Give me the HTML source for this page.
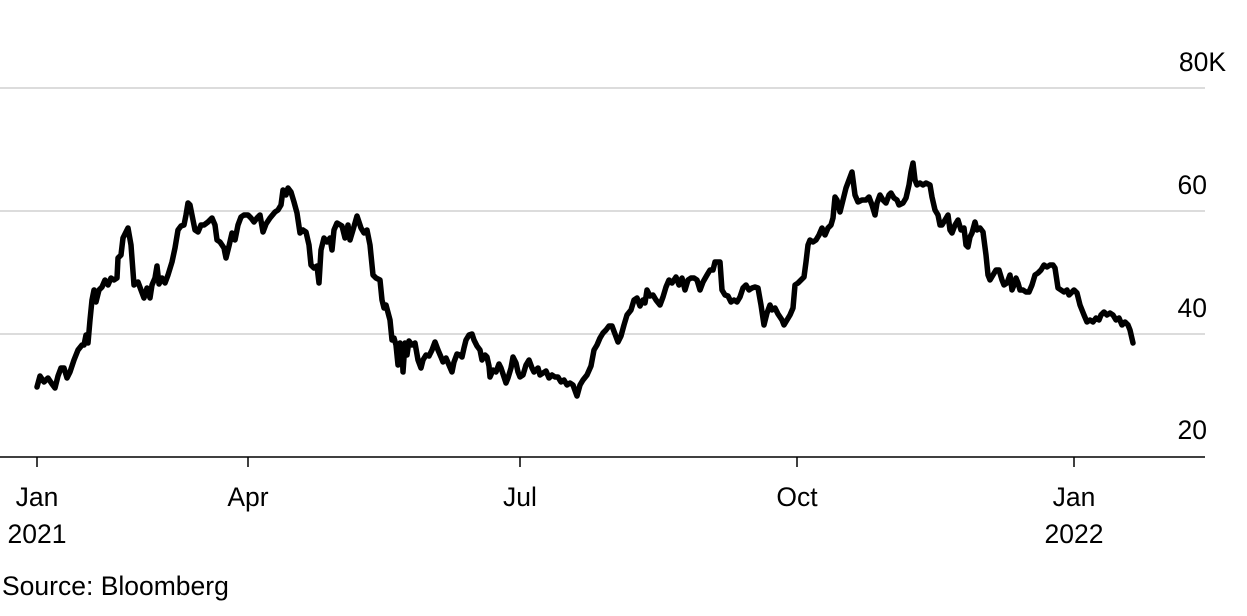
<!DOCTYPE html>
<html><head><style>
html,body{margin:0;padding:0;background:#fff;}
body{width:1247px;height:611px;overflow:hidden;font-family:"Liberation Sans",sans-serif;}
</style></head><body>
<svg width="1247" height="611" xmlns="http://www.w3.org/2000/svg" font-family="Liberation Sans, sans-serif" font-size="26.5" fill="#000">
<g stroke="#dcdcdc" stroke-width="2">
<line x1="0" y1="88" x2="1205" y2="88"/>
<line x1="0" y1="211" x2="1205" y2="211"/>
<line x1="0" y1="334" x2="1205" y2="334"/>
</g>
<line x1="0" y1="457" x2="1205" y2="457" stroke="#000" stroke-width="1.5"/>
<g stroke="#000" stroke-width="1.5">
<line x1="37" y1="457" x2="37" y2="467"/>
<line x1="248" y1="457" x2="248" y2="467"/>
<line x1="520" y1="457" x2="520" y2="467"/>
<line x1="797" y1="457" x2="797" y2="467"/>
<line x1="1074" y1="457" x2="1074" y2="467"/>
</g>
<text x="1226" y="71" text-anchor="end">80K</text>
<text x="1207" y="194" text-anchor="end">60</text>
<text x="1207" y="317" text-anchor="end">40</text>
<text x="1207" y="439" text-anchor="end">20</text>
<text x="37" y="506" text-anchor="middle">Jan</text>
<text x="37" y="543" text-anchor="middle">2021</text>
<text x="248" y="506" text-anchor="middle">Apr</text>
<text x="520" y="506" text-anchor="middle">Jul</text>
<text x="797" y="506" text-anchor="middle">Oct</text>
<text x="1074" y="506" text-anchor="middle">Jan</text>
<text x="1074" y="543" text-anchor="middle">2022</text>
<text x="2" y="595">Source: Bloomberg</text>
<polyline fill="none" stroke="#000" stroke-width="5.5" stroke-linejoin="round" stroke-linecap="round" points="37,387 40,376 44,382 48,378 52,384 55,388 58,376 61,368 64,368 67,378 70,372 74,360 78,350 82,345 84,345 86,335 88,343 90,320 92,300 94,290 96,302 99,290 102,287 105,280 108,285 111,278 114,280 117,278 118,258 121,255 123,238 126,232 128,228 131,245 134,285 136,283 138,282 141,290 144,298 147,288 150,298 152,285 155,278 157,266 159,284 162,278 165,283 168,275 172,262 175,248 178,230 181,226 184,225 186,215 188,203 190,205 192,215 195,230 198,232 201,225 204,225 208,222 212,218 215,225 217,240 220,242 224,248 226,258 229,246 232,233 235,240 238,225 241,217 244,215 248,215 251,218 254,222 257,218 260,215 263,232 266,224 270,218 275,212 278,210 281,205 283,190 286,195 288,188 291,192 294,202 297,213 300,233 303,230 306,232 309,245 311,265 314,268 317,266 319,283 321,250 324,238 327,242 330,238 332,250 334,230 337,223 342,226 345,238 348,225 350,240 353,230 357,216 361,228 364,233 367,230 370,245 373,275 376,278 380,280 382,300 384,308 386,305 390,320 392,340 394,338 396,345 398,365 400,343 402,348 403,372 405,343 407,355 409,341 412,345 415,343 418,360 421,368 423,360 426,355 429,356 432,350 435,342 438,350 441,357 443,362 446,358 449,365 452,372 454,362 457,354 460,355 462,357 464,348 466,340 469,335 472,334 474,340 477,346 480,350 482,360 485,355 487,357 489,366 490,377 493,370 496,372 499,364 501,368 504,377 506,383 508,378 511,368 513,357 516,363 518,372 520,377 523,375 526,365 529,360 532,368 534,372 538,368 540,375 543,373 546,371 549,378 552,375 555,377 558,377 561,382 564,380 567,385 570,383 573,385 577,396 580,385 583,380 587,375 591,366 594,350 597,345 600,338 603,333 606,330 609,326 612,326 615,334 618,342 621,336 624,325 627,315 631,310 634,300 637,298 640,306 643,300 645,303 647,290 650,296 653,295 656,300 660,305 663,297 666,287 669,280 672,283 676,277 679,285 682,278 685,290 688,280 691,278 694,278 697,280 700,290 703,282 707,275 710,270 713,270 715,262 718,262 720,262 722,290 725,295 728,296 731,302 734,300 737,302 740,297 743,288 746,285 749,290 752,288 755,287 758,288 761,305 764,325 767,313 770,305 772,310 775,308 778,314 782,320 784,325 787,320 790,315 793,308 795,285 798,283 801,280 804,277 806,262 808,245 810,240 813,242 816,240 819,235 822,228 825,235 828,228 831,225 833,218 835,197 837,200 840,212 843,200 846,188 849,180 852,172 855,195 858,202 862,200 866,200 869,197 872,205 875,215 877,203 880,195 883,200 886,203 889,195 891,193 894,198 897,200 899,205 903,203 906,198 909,185 911,172 913,163 915,180 917,185 920,183 923,185 926,183 930,185 932,197 935,210 938,215 940,225 942,225 945,220 948,215 950,230 952,233 955,225 958,220 961,230 964,228 966,245 968,247 970,237 972,233 975,222 977,230 980,228 983,232 986,255 988,275 990,280 993,275 996,270 999,270 1002,280 1004,285 1007,283 1010,275 1012,290 1014,285 1016,278 1018,283 1020,290 1023,290 1026,292 1029,292 1032,285 1035,275 1038,273 1041,270 1044,265 1047,267 1050,265 1053,265 1055,268 1058,288 1061,290 1064,292 1067,290 1069,295 1071,293 1074,290 1077,293 1080,305 1084,315 1087,322 1090,320 1093,322 1096,318 1099,320 1101,315 1104,312 1107,315 1110,313 1113,315 1116,320 1119,318 1122,325 1125,322 1128,325 1130,330 1133,343"/>
</svg>
</body></html>
